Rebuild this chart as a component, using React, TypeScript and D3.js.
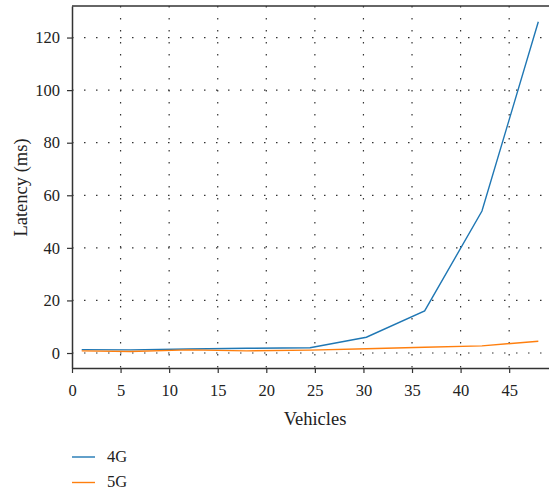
import React, { useEffect, useRef } from "react";
import * as d3 from "d3";

const vehicles = [1, 6, 12, 18, 24.5, 30.3, 36.3, 42.2, 48];
const latency4G = [1.3, 1.2, 1.5, 1.8, 2.0, 6.0, 16.0, 54.0, 126.0];
const latency5G = [0.8, 0.6, 1.2, 0.8, 1.1, 1.6, 2.2, 2.7, 4.5];
const xTicks = [0, 5, 10, 15, 20, 25, 30, 35, 40, 45];
const yTicks = [0, 20, 40, 60, 80, 100, 120];
const seriesNames = ["4G", "5G"];
const colors = ["#1f77b4", "#ff7f0e"];

const App = () => {
  const svgRef = useRef<SVGSVGElement>(null);

  useEffect(() => {
    const width = 549;
    const height = 489;
    const margin = { top: 6, right: 0, left: 72, bottom: 121 };
    const innerW = width - margin.left - margin.right;
    const innerH = height - margin.top - margin.bottom;
    const font = "'Liberation Serif', 'DejaVu Serif', serif";

    const svg = d3.select(svgRef.current);
    svg.selectAll("*").remove();
    const g = svg
      .append("g")
      .attr("transform", `translate(${margin.left},${margin.top})`);

    const xScale = d3.scaleLinear().domain([0, 49.1]).range([0, innerW]);
    const yScale = d3.scaleLinear().domain([-5.7, 132]).range([innerH, 0]);

    // grid
    g.selectAll(".hgrid")
      .data(yTicks)
      .enter()
      .append("line")
      .attr("x1", 0)
      .attr("x2", innerW)
      .attr("y1", (d) => yScale(d))
      .attr("y2", (d) => yScale(d))
      .attr("stroke", "#333")
      .attr("stroke-width", 1.2)
      .attr("stroke-dasharray", "1.5,10.5");

    g.selectAll(".vgrid")
      .data(xTicks.slice(1))
      .enter()
      .append("line")
      .attr("x1", (d) => xScale(d))
      .attr("x2", (d) => xScale(d))
      .attr("y1", 0)
      .attr("y2", innerH)
      .attr("stroke", "#333")
      .attr("stroke-width", 1.2)
      .attr("stroke-dasharray", "1.5,10.5");

    // axes
    const xAxis = d3.axisBottom(xScale).tickValues(xTicks).tickSize(5).tickSizeOuter(0);
    const yAxis = d3.axisLeft(yScale).tickValues(yTicks).tickSize(5).tickSizeOuter(0);

    const gx = g
      .append("g")
      .attr("transform", `translate(0,${innerH})`)
      .call(xAxis);
    gx.selectAll("text")
      .style("font-family", font)
      .style("font-size", "16.5px")
      .attr("fill", "#222")
      .attr("dy", "1.2em");

    const gy = g.append("g").call(yAxis);
    gy.selectAll("text")
      .style("font-family", font)
      .style("font-size", "16.5px")
      .attr("fill", "#222")
      .attr("x", -12);

    svg.selectAll(".domain").attr("stroke", "#333").attr("stroke-width", 1.5);
    svg.selectAll(".tick line").attr("stroke", "#333").attr("stroke-width", 1.2);

    // top border
    g.append("line")
      .attr("x1", 0)
      .attr("x2", innerW)
      .attr("y1", 0)
      .attr("y2", 0)
      .attr("stroke", "#333")
      .attr("stroke-width", 1.5);

    // lines
    const line = d3
      .line<number>()
      .x((_, i) => xScale(vehicles[i]))
      .y((d) => yScale(d));

    [latency4G, latency5G].forEach((s, i) => {
      g.append("path")
        .datum(s)
        .attr("fill", "none")
        .attr("stroke", colors[i])
        .attr("stroke-width", 1.4)
        .attr("d", line);
    });

    // labels
    svg
      .append("text")
      .attr("x", 315)
      .attr("y", 425)
      .attr("text-anchor", "middle")
      .style("font-family", font)
      .style("font-size", "18.5px")
      .attr("fill", "#222")
      .text("Vehicles");

    svg
      .append("text")
      .attr("transform", "rotate(-90)")
      .attr("y", 27)
      .attr("x", -187.5)
      .attr("text-anchor", "middle")
      .style("font-family", font)
      .style("font-size", "18.5px")
      .attr("fill", "#222")
      .text("Latency (ms)");

    // legend
    const legend = svg.append("g").attr("transform", "translate(72,457)");
    seriesNames.forEach((name, i) => {
      const row = legend.append("g").attr("transform", `translate(0,${i * 25.5})`);
      row.append("line")
        .attr("x1", 0)
        .attr("x2", 23)
        .attr("y1", 0)
        .attr("y2", 0)
        .attr("stroke", colors[i])
        .attr("stroke-width", 1.4);
      row.append("text")
        .attr("x", 35)
        .attr("y", 4.5)
        .style("font-family", font)
        .style("font-size", "16.5px")
        .attr("fill", "#222")
        .text(name);
    });
  }, []);

  return (
    <svg
      ref={svgRef}
      width={549}
      height={489}
      style={{ position: "absolute", left: 0, top: 0, background: "#fff" }}
    />
  );
};

export default App;
